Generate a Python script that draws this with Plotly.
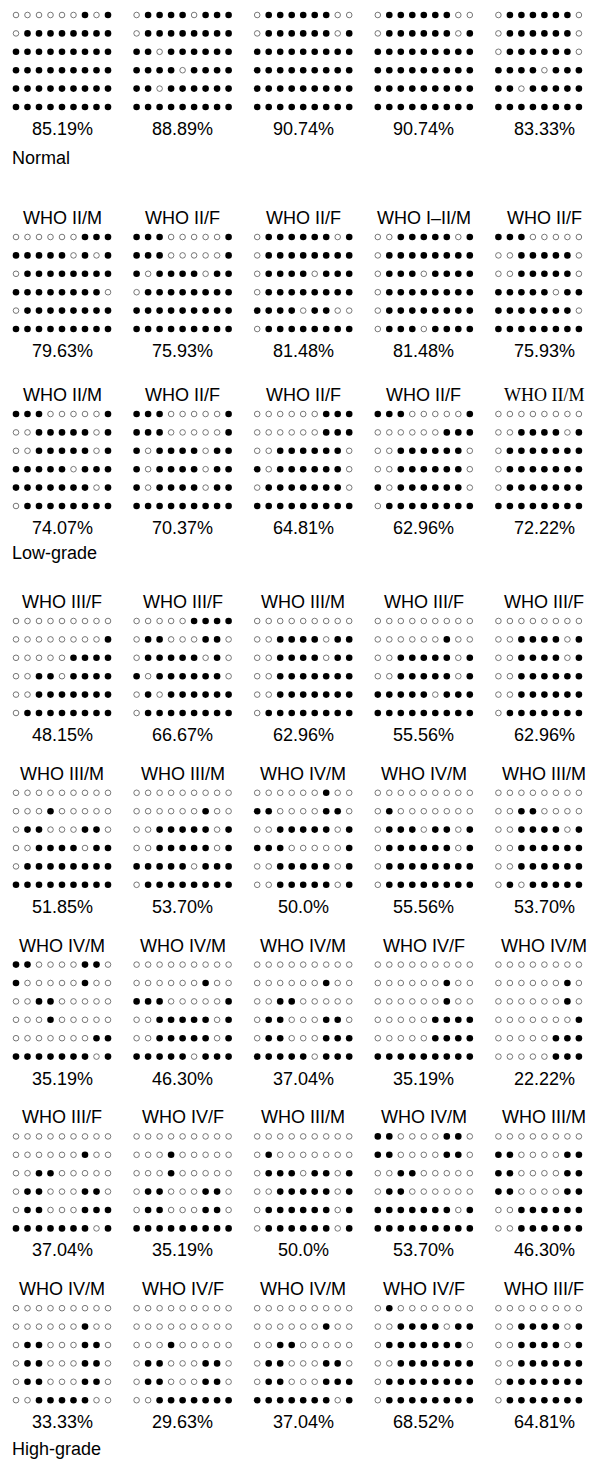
import plotly.graph_objects as go

# ---------------- data ----------------
normal_grids = [
    ["000000101", "011111111", "111111111", "111111111", "111111111", "111111111"],
    ["011110111", "011111111", "110111111", "111101111", "110111111", "111111111"],
    ["011111100", "011111101", "111111111", "111111111", "111111111", "111111111"],
    ["011111100", "011111101", "111111111", "111111111", "111111111", "111111111"],
    ["011111100", "011111101", "011111101", "111101111", "110111111", "111111111"],
]
normal_pct = ["85.19%", "88.89%", "90.74%", "90.74%", "83.33%"]

low_titles = ["WHO II/M", "WHO II/F", "WHO II/F", "WHO I–II/M", "WHO II/F",
              "WHO II/M", "WHO II/F", "WHO II/F", "WHO II/F", "WHO II/M"]
low_grids = [
    ["000000111", "111110101", "011111111", "111111110", "011111111", "111111111"],
    ["111000001", "111000001", "101111011", "011111111", "111111111", "111111111"],
    ["011111101", "011111111", "011110111", "011111111", "111101100", "011111111"],
    ["001111101", "011111111", "011101111", "011111111", "011111111", "011101111"],
    ["111000001", "001111101", "001111101", "111110111", "111111101", "111111111"],
    ["111000001", "001111101", "001111101", "111110111", "111111101", "011111111"],
    ["111000001", "111000001", "101111011", "101111011", "101111011", "111111111"],
    ["000000111", "000000111", "001111110", "101111110", "011111110", "111111111"],
    ["111000001", "000000111", "001111110", "001111110", "101111110", "011111111"],
    ["000000000", "001111011", "011111111", "011111111", "011111111", "111111111"],
]
low_pct = ["79.63%", "75.93%", "81.48%", "81.48%", "75.93%",
           "74.07%", "70.37%", "64.81%", "62.96%", "72.22%"]
low_serif_titles = [9]

high_titles = ["WHO III/F", "WHO III/F", "WHO III/M", "WHO III/F", "WHO III/F",
               "WHO III/M", "WHO III/M", "WHO IV/M", "WHO IV/M", "WHO III/M",
               "WHO IV/M", "WHO IV/M", "WHO IV/M", "WHO IV/F", "WHO IV/M",
               "WHO III/F", "WHO IV/F", "WHO III/M", "WHO IV/M", "WHO III/M",
               "WHO IV/M", "WHO IV/F", "WHO IV/M", "WHO IV/F", "WHO III/F"]
high_grids = [
    ["000000000", "000000001", "000001111", "001101111", "001111111", "011111111"],
    ["000001111", "011000110", "011111010", "101111110", "010111111", "011111111"],
    ["000000000", "001111011", "001111011", "001111111", "001111111", "011111111"],
    ["000000000", "000000100", "001111101", "001111101", "111110111", "111111111"],
    ["000000000", "001111011", "001111011", "001111111", "001111111", "011111111"],
    ["000000000", "000100000", "011000110", "001111011", "011111111", "111111111"],
    ["000000000", "000000100", "001111101", "001111101", "111110111", "011111111"],
    ["000000100", "110000110", "001111101", "111000001", "001111101", "001111101"],
    ["000000000", "010000000", "011101101", "011111101", "011111111", "011111111"],
    ["000000000", "001100000", "001111011", "001111111", "001111111", "010111111"],
    ["110000110", "100000100", "001100000", "000100000", "000000011", "111111101"],
    ["000000000", "000000100", "111000001", "001111101", "001111101", "111110111"],
    ["000000000", "000000100", "001100000", "011000110", "011000111", "111110111"],
    ["000000000", "000000100", "000000100", "000001111", "000001111", "111111111"],
    ["000000000", "000000100", "000000100", "000000011", "000001111", "000001111"],
    ["000000000", "000000100", "001100000", "011000110", "011000111", "111111101"],
    ["000000000", "000100000", "000100000", "011000110", "011000110", "111111111"],
    ["000000000", "010000000", "011101101", "001111101", "011111101", "011111101"],
    ["110000110", "110000110", "001100000", "011000000", "111111101", "111111111"],
    ["000000000", "110000110", "110000110", "110000110", "001111110", "001111111"],
    ["000000000", "000000100", "011000110", "011000110", "011000110", "001111100"],
    ["000000000", "000000000", "000100000", "011000110", "011000110", "001111111"],
    ["000000000", "000000100", "001100000", "011000110", "011000111", "111111101"],
    ["010000000", "001111011", "011111110", "001111111", "011111111", "011111111"],
    ["000000000", "001111011", "001111011", "001111111", "011111111", "011111111"],
]
high_pct = ["48.15%", "66.67%", "62.96%", "55.56%", "62.96%",
            "51.85%", "53.70%", "50.0%", "55.56%", "53.70%",
            "35.19%", "46.30%", "37.04%", "35.19%", "22.22%",
            "37.04%", "35.19%", "50.0%", "53.70%", "46.30%",
            "33.33%", "29.63%", "37.04%", "68.52%", "64.81%"]

group_labels = ["Normal", "Low-grade", "High-grade"]

# ---------------- layout constants (screen pixels) ----------------
W, H = 595, 1468
PAGE_MARGIN = 8    # default body margin of the html page
X0 = 16.0          # first column centre of first panel
PANEL_DX = 120.6   # panel pitch
COL_DX = 11.5      # circle pitch (x)
ROW_DY = 18.4      # circle pitch (y)
TITLE_TO_ROW = 19.0
ROW_TO_PCT = 22.0
PER_ROW = 5

groups = [
    dict(grids=normal_grids, pct=normal_pct, titles=None,
         top=15.0 - TITLE_TO_ROW, pitch=177.0, label_y=157.5),
    dict(grids=low_grids, pct=low_pct, titles=low_titles,
         top=218.0, pitch=177.0, label_y=553.0, serif=low_serif_titles),
    dict(grids=high_grids, pct=high_pct, titles=high_titles,
         top=602.0, pitch=171.8, label_y=1449.0),
]

fx, fy, ox, oy = [], [], [], []
annotations = []
FONT = "Liberation Sans, Arial, sans-serif"
SERIF = "Liberation Serif, Times New Roman, serif"

for gi, g in enumerate(groups):
    for k, grid in enumerate(g["grids"]):
        brow, bcol = divmod(k, PER_ROW)
        ty = g["top"] + brow * g["pitch"]
        px = X0 + bcol * PANEL_DX
        for r, rowstr in enumerate(grid):
            y = ty + TITLE_TO_ROW + r * ROW_DY
            for c, ch in enumerate(rowstr):
                x = px + c * COL_DX
                if ch == "1":
                    fx.append(x); fy.append(y)
                else:
                    ox.append(x); oy.append(y)
        cx = px + 4 * COL_DX
        if g["titles"] is not None:
            fam = SERIF if k in g.get("serif", []) else FONT
            annotations.append(dict(x=cx, y=ty, text=g["titles"][k], showarrow=False,
                                    xanchor="center", yanchor="middle",
                                    font=dict(family=fam, size=18, color="#000")))
        pct_y = ty + TITLE_TO_ROW + 5 * ROW_DY + ROW_TO_PCT
        annotations.append(dict(x=cx, y=pct_y, text=g["pct"][k], showarrow=False,
                                xanchor="center", yanchor="middle",
                                font=dict(family=FONT, size=18, color="#000")))
    annotations.append(dict(x=10, y=g["label_y"], text=group_labels[gi], showarrow=False,
                            xanchor="left", yanchor="middle",
                            font=dict(family=FONT, size=18, color="#000")))

fig = go.Figure()
fig.add_trace(go.Scatter(x=ox, y=oy, mode="markers", hoverinfo="skip", cliponaxis=False,
                         marker=dict(symbol="circle-open", size=5.6, color="#555",
                                     line=dict(width=0.8, color="#555"))))
fig.add_trace(go.Scatter(x=fx, y=fy, mode="markers", hoverinfo="skip", cliponaxis=False,
                         marker=dict(symbol="circle", size=6.6, color="#000",
                                     line=dict(width=0))))

fig.update_layout(
    width=W - PAGE_MARGIN, height=H - PAGE_MARGIN,
    margin=dict(l=0, r=0, t=0, b=0),
    paper_bgcolor="white", plot_bgcolor="white", showlegend=False,
    annotations=annotations,
    xaxis=dict(range=[PAGE_MARGIN, W], visible=False, fixedrange=True),
    yaxis=dict(range=[H, PAGE_MARGIN], visible=False, fixedrange=True),
)
fig.write_html("out.html")
